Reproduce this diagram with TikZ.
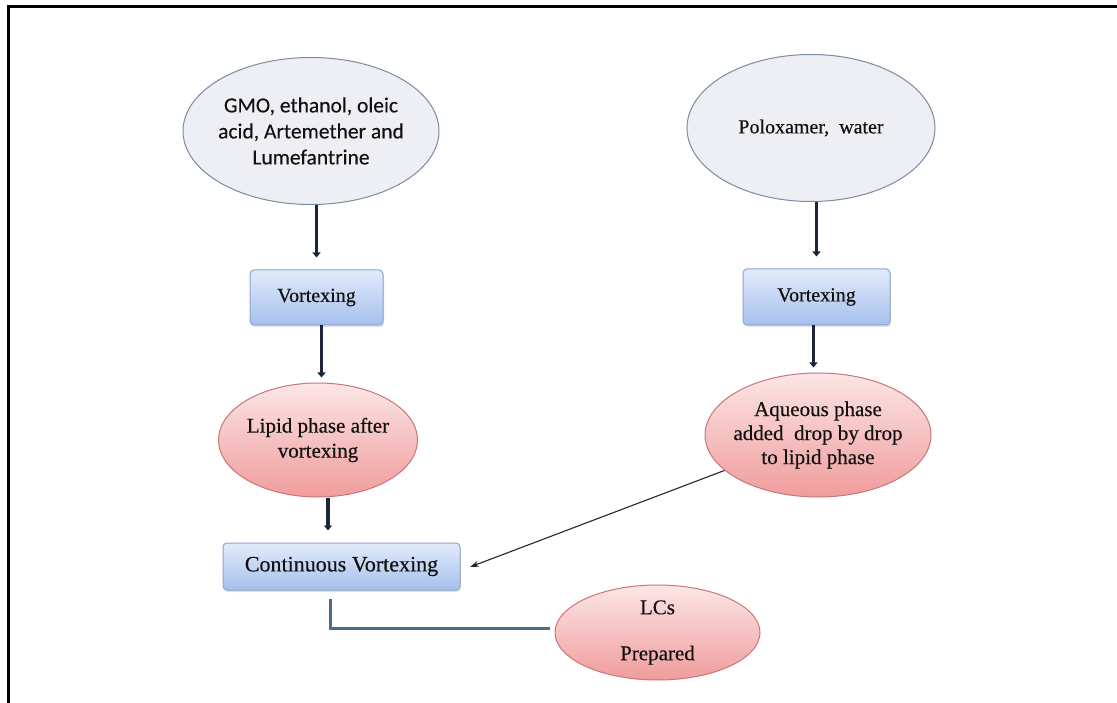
\documentclass[tikz,border=0pt]{standalone}
\usepackage{fontspec}
\setmainfont[FakeBold=0.35]{Liberation Serif}
\newfontfamily\calibri[FakeBold=0.2]{Carlito}
\usetikzlibrary{shapes.geometric,arrows.meta,shadows}
\definecolor{navy}{HTML}{1C2638}
\definecolor{grayfill}{HTML}{EDEFF4}
\definecolor{grayline}{HTML}{7B8BA3}
\definecolor{boxtop}{HTML}{E2EBFB}
\definecolor{boxbot}{HTML}{A6C0EC}
\definecolor{boxline}{HTML}{8CA5CF}
\definecolor{pinktop}{HTML}{FCE6E6}
\definecolor{pinkbot}{HTML}{F09C9C}
\definecolor{pinkline}{HTML}{C8777A}
\definecolor{elbowcol}{HTML}{4F6B8E}
\definecolor{txt}{HTML}{111111}
\tikzset{
  grayell/.style={ellipse, draw=grayline, line width=1pt, fill=grayfill, inner xsep=-30pt, inner ysep=0pt, align=center, text=txt},
  pinkell/.style={ellipse, draw=pinkline, line width=1pt, top color=pinktop, bottom color=pinkbot, inner xsep=-30pt, inner ysep=0pt, align=center, text=txt, font=\fontsize{21}{25}\selectfont},
  stepbox/.style={rectangle, rounded corners=4pt, draw=boxline, line width=1pt, top color=boxtop, bottom color=boxbot, inner sep=0pt, align=center, text=txt, font=\fontsize{20}{24}\selectfont, drop shadow={opacity=0.25, shadow xshift=1pt, shadow yshift=-2pt}},
  thickarr/.style={draw=navy, line width=3.4pt, -{Triangle[length=5pt,width=8pt]}},
  thinarr/.style={draw=black!85, line width=1.1pt, -{Stealth[length=9pt,width=6pt]}},
  elbow/.style={draw=elbowcol, line width=2.2pt}
}
\begin{document}
\begin{tikzpicture}[x=1pt,y=-1pt]
\useasboundingbox (0,0) rectangle (1117,703);
\fill[white] (0,0) rectangle (1117,703);
\draw[line width=3pt] (8.5,703) -- (8.5,6.5) -- (1117,6.5);

\node[grayell, minimum width=256pt, minimum height=147pt, font=\calibri\fontsize{21.5}{26}\selectfont] (e1) at (311,131) {GMO, ethanol, oleic\\acid, Artemether and\\Lumefantrine};
\node[grayell, minimum width=248pt, minimum height=147pt, font=\fontsize{20}{24}\selectfont] (e2) at (811,128) {Poloxamer,\ \ water};

\node[stepbox, minimum width=133pt, minimum height=55pt] (v1) at (316.5,297.5) {Vortexing};
\node[stepbox, minimum width=147pt, minimum height=56pt] (v2) at (816.5,297) {Vortexing};

\node[pinkell, minimum width=199pt, minimum height=114pt] (lip) at (318,440) {Lipid phase after\\vortexing};
\node[pinkell, minimum width=226pt, minimum height=124pt, font=\fontsize{21}{24}\selectfont] (aq) at (818,435) {Aqueous phase\\added\ \ drop by drop\\to lipid phase};

\node[stepbox, minimum width=237pt, minimum height=47pt, font=\fontsize{22}{26}\selectfont] (cv) at (341.5,566.5) {Continuous Vortexing};

\node[pinkell, minimum width=205pt, minimum height=95pt, font=\fontsize{21}{46}\selectfont] (lcs) at (657.5,632.5) {LCs\\Prepared};

\coordinate (tip) at (470,567);

\draw[thickarr, shorten >=12pt] (v1 |- e1.south) -- (v1.north);
\draw[thickarr, shorten >=12pt] (v2 |- e2.south) -- (v2.north);
\draw[thickarr, shorten >=5pt] ([xshift=5pt]v1.south) -- ([xshift=5pt]v1.south |- lip.north);
\draw[thickarr, shorten >=5pt] ([xshift=-3pt]v2.south) -- ([xshift=-3pt]v2.south |- aq.north);
\draw[thickarr, shorten >=12pt] ([xshift=10pt]lip.south) -- ([xshift=10pt]lip.south |- cv.north);
\draw[thinarr] (aq) -- (tip);
\draw[elbow] ([xshift=-11pt,yshift=-8pt]cv.south) |- ([xshift=-5pt,yshift=4pt]lcs.west);
\end{tikzpicture}
\end{document}
